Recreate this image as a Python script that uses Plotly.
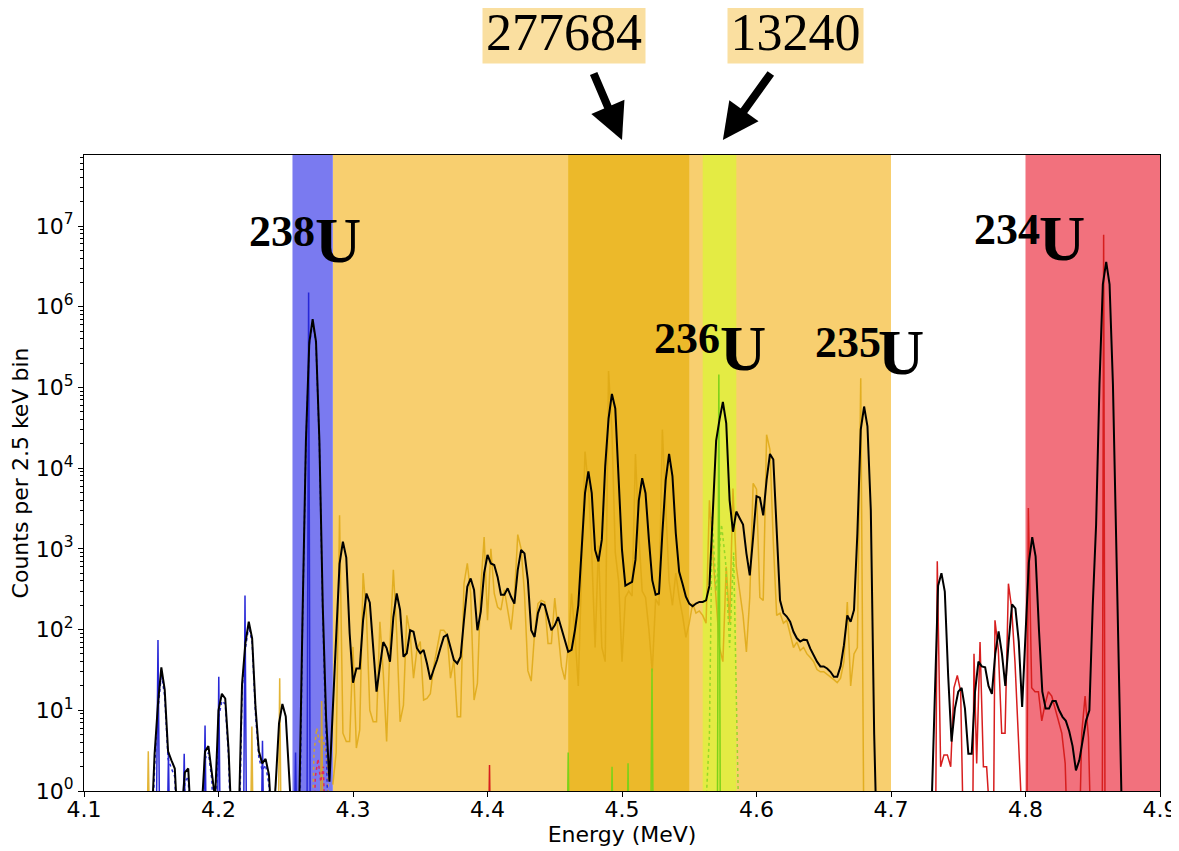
import numpy as np
import plotly.graph_objects as go

# ---------------- data ----------------
# summed, smoothed spectrum: counts per 2.5 keV bin starting at 4.150 MeV
BIN_START = 4.150
BIN_WIDTH = 0.0025
sum_counts = [
    0.3, 2.9, 12, 34, 18, 3.1, 2.4, 1.9, 0.3, 0.5,
    1.7, 1.9, 0.3, 0.3, 0.3, 0.6, 3.1, 3.6, 1.8, 0.8,
    10, 16, 14, 3.2, 0.3, 0.3, 0.4, 21, 68, 125,
    78, 11, 3.1, 2.2, 2.5, 1.6, 0.3, 1.2, 6.9, 12,
    8.4, 2.0, 0.3, 0.3, 0.6, 150, 22000, 360000, 700000, 370000,
    22000, 200, 8, 1.3, 10, 120, 650, 1230, 780, 90,
    22, 33, 33, 131, 280, 215, 67, 17, 35, 70,
    59, 40, 143, 280, 175, 46, 51, 98, 94, 59,
    51, 56, 38, 24, 32, 42, 59, 81, 86, 62,
    42, 38, 46, 131, 340, 430, 310, 98, 167, 500,
    840, 660, 630, 450, 270, 270, 325, 255, 210, 550,
    970, 880, 410, 98, 81, 160, 210, 200, 143, 98,
    113, 143, 103, 74, 53, 56, 98, 200, 880, 4900,
    9100, 4900, 970, 700, 1300, 10500, 41000, 83000, 55000, 5900,
    970, 350, 370, 390, 730, 4000, 7500, 4900, 1300, 410,
    270, 280, 1560, 7100, 15000, 8000, 1560, 520, 370, 255,
    210, 195, 210, 220, 220, 230, 350, 3300, 22000, 40000,
    66000, 36000, 4000, 1630, 2900, 2400, 2000, 880, 470, 1400,
    4500, 4300, 2600, 7100, 15000, 12800, 1560, 230, 160, 145,
    125, 94, 78, 71, 75, 74, 58, 48, 40, 35,
    35, 33, 30, 26, 26, 35, 64, 150, 125, 175,
    1560, 30000, 58000, 33000, 3000, 5, 0.1, 0.1, 0.1, 0.1,
    0.1, 0.1, 0.1, 0.1, 0.1, 0.1, 0.1, 0.1, 0.1, 0.1,
    0.1, 0.1, 0.5, 19, 350, 500, 295, 27, 4.1, 10.5,
    17, 19, 10.5, 2.9, 2.9, 17, 40, 35, 34, 20,
    16, 50, 95, 50, 20, 71, 205, 183, 71, 11,
    100, 680, 1400, 810, 100, 17, 10.5, 10.5, 13, 13,
    10, 8.3, 7.4, 5.5, 3.6, 1.8, 2.4, 4.3, 7.4, 10,
    200, 2000, 110000, 1900000, 3600000, 1900000, 110000, 1100, 5, 0.1,
]

# 238U component (dotted), same 2.5 keV bins from 4.150 MeV
u238_dotted = [
    0.1, 2.0, 10, 28, 15, 2.5, 1.9, 1.5, 0.1, 0.1,
    1.3, 1.5, 0.1, 0.1, 0.1, 0.1, 2.5, 3.0, 1.4, 0.1,
    8, 13, 12, 2.6, 0.1, 0.1, 0.1, 18, 58, 110,
    70, 9, 2.6, 1.8, 2.1, 1.2, 0.1, 0.1, 0.1, 0.1,
    0.1, 0.1, 0.1, 0.1, 0.1, 130, 20000, 330000, 650000, 340000,
    20000, 150, 4, 0.1,
]

# 238U raw component (solid blue)
u238_E = [4.1535, 4.1550, 4.1565, 4.1615, 4.1628, 4.1640, 4.1730, 4.1745, 4.1760,
          4.1885, 4.1900, 4.1912, 4.1990, 4.2002, 4.2015, 4.2185, 4.2197, 4.2210,
          4.2315, 4.2327, 4.2340, 4.2560, 4.2573, 4.2586, 4.2657, 4.2670, 4.2683]
u238_C = [0.1, 74, 0.1, 0.1, 3.0, 0.1, 0.1, 2.9, 0.1,
          0.1, 6.5, 0.1, 0.1, 26, 0.1, 0.1, 265, 0.1,
          0.1, 4.2, 0.1, 0.1, 3.0, 0.1, 0.1, 1.5e6, 0.1]

# 235U-chain component (gold): isolated low-energy spikes
gold_spike_E = [4.1465, 4.1478, 4.1491, 4.2235, 4.2248, 4.2261,
                4.2442, 4.2455, 4.2468, 4.2754, 4.2767, 4.2780]
gold_spike_C = [0.1, 3.1, 0.1, 0.1, 6.3, 0.1, 0.1, 25, 0.1, 0.1, 13, 0.1]
# gold component, 2.5 keV bins from 4.285 MeV
GOLD_START = 4.285
gold_counts = [
    1.2, 3, 2600, 5.2, 4.1, 4.1, 61, 3.4, 5.7, 500,
    150, 10, 7.2, 7.2, 125, 29, 4.1, 67, 550, 90,
    7.2, 11.6, 150, 90, 25, 56, 71, 13.4, 14, 16,
    35, 61, 98, 98, 86, 25, 42, 8.3, 8.3, 370,
    660, 280, 13.4, 21.6, 325, 1400, 131, 1000, 280, 190,
    175, 310, 175, 100, 255, 1500, 1000, 280, 31, 23,
    90, 210, 230, 220, 67, 67, 245, 90, 35, 24,
    61, 280, 90, 20, 600, 16000, 6000, 900, 60, 1100,
    60, 40, 160000, 30000, 900, 400, 40, 250, 300, 260,
    15000, 1500, 300, 250, 100, 30, 240, 200, 30000, 3000,
    400, 200, 500, 250, 150, 80, 120, 210, 160, 170,
    150, 120, 4000, 900, 200, 60, 40, 600, 120, 5600,
    600, 300, 150, 53, 250, 6500, 5500, 250, 230, 26000,
    17000, 1200, 150, 160, 120, 130, 90, 60, 70, 55,
    60, 50, 45, 40, 32, 30, 30, 28, 26, 24,
    22, 25, 40, 220, 20, 50, 60, 130000, 0.1, 0.1,
    0.1, 0.1, 0.1, 0.1, 0.1, 0.1, 0.1, 0.1,
]
# gold dotted component near the 238U window
gold_dot_E = [4.2690, 4.2710, 4.2730, 4.2750, 4.2770, 4.2790, 4.2810, 4.2830]
gold_dot_C = [0.1, 3, 6, 4, 5, 3.5, 2, 0.1]

# 236U component (green)
u236_E = [4.4590, 4.4600, 4.4610, 4.4915, 4.4926, 4.4937, 4.5035, 4.5045, 4.5055,
          4.5212, 4.5223, 4.5234, 4.5708, 4.5720, 4.5732]
u236_C = [0.1, 3, 0.1, 0.1, 2, 0.1, 0.1, 2.2, 0.1, 0.1, 33, 0.1, 0.1, 145000, 0.1]
u236_dot_E = [4.5600, 4.5650, 4.5670, 4.5700, 4.5740, 4.5770, 4.5800, 4.5830, 4.5850, 4.5875]
u236_dot_C = [0.1, 5, 2500, 300, 2000, 700, 60, 900, 15, 0.1]

# 234U component (red)
u234_E = [4.4005, 4.4015, 4.4025,
          4.7330, 4.7344, 4.7369, 4.7394, 4.7419, 4.7444, 4.7468, 4.7493, 4.7518, 4.7543,
          4.7605, 4.7617, 4.7637, 4.7662, 4.7687, 4.7711, 4.7760, 4.7773, 4.7798, 4.7823,
          4.7848, 4.7873, 4.7897, 4.7922, 4.7947, 4.7979,
          4.8010, 4.8021, 4.8046, 4.8071, 4.8096, 4.8121, 4.8146, 4.8170, 4.8195, 4.8220,
          4.8245, 4.8270, 4.8295, 4.8319,
          4.8395, 4.8418, 4.8443, 4.8468, 4.8493,
          4.8570, 4.8581, 4.8592]
u234_C = [0.1, 2.1, 0.1,
          0.1, 700, 2.0, 2.8, 2.8, 2.0, 19, 27, 17, 0.1,
          0.1, 50, 2.2, 70, 2.0, 2.0, 0.1, 130, 56, 5.2,
          5.2, 370, 184, 39, 5.2, 0.3,
          0.3, 3200, 19, 17, 17, 7.4, 12, 17, 15, 10.5,
          7.4, 5.2, 2.2, 0.1,
          0.1, 5.2, 15, 4.6, 0.1,
          0.1, 7.8e6, 0.1]
u234_dot_E = [4.2700, 4.2720, 4.2740, 4.2760, 4.2780, 4.2800]
u234_dot_C = [0.1, 1.5, 2.5, 1.3, 2.0, 0.1]

# energy windows (MeV)
windows = {
    "u238": (4.255, 4.285),
    "wide": (4.285, 4.700),
    "sum": (4.460, 4.550),
    "u236": (4.560, 4.585),
    "u234": (4.800, 4.900),
}
window_sums = {"sum": "277684", "u236": "13240"}

x_ticks = [4.1, 4.2, 4.3, 4.4, 4.5, 4.6, 4.7, 4.8, 4.9]
y_decades = [0, 1, 2, 3, 4, 5, 6, 7]

# ---------------- figure ----------------
x_sum = np.round(BIN_START + BIN_WIDTH * np.arange(len(sum_counts)), 5)
x_gold = np.round(GOLD_START + BIN_WIDTH * np.arange(len(gold_counts)), 5)

fig = go.Figure()

band_colors = {
    "u238": "rgb(122,122,240)",
    "wide": "rgb(248,207,111)",
    "sum": "rgb(236,185,42)",
    "u236": "rgb(228,235,68)",
    "u234": "rgb(242,113,125)",
}
for key in ["wide", "u238", "sum", "u236", "u234"]:
    x0, x1 = windows[key]
    fig.add_vrect(x0=x0, x1=x1, fillcolor=band_colors[key], opacity=1,
                  line_width=0, layer="below")

GOLD = "rgba(222,168,20,0.85)"
fig.add_trace(go.Scatter(x=list(gold_spike_E) + [None] + list(x_gold),
                         y=list(gold_spike_C) + [None] + list(gold_counts),
                         mode="lines", line=dict(color=GOLD, width=1.5),
                         connectgaps=False, hoverinfo="skip"))
fig.add_trace(go.Scatter(x=gold_dot_E, y=gold_dot_C, mode="lines",
                         line=dict(color=GOLD, width=1.5, dash="dot")))
fig.add_trace(go.Scatter(x=u234_dot_E, y=u234_dot_C, mode="lines",
                         line=dict(color="rgb(225,40,90)", width=1.5, dash="dot")))
fig.add_trace(go.Scatter(x=x_sum[:len(u238_dotted)], y=u238_dotted, mode="lines",
                         line=dict(color="rgb(45,45,215)", width=1.5, dash="dot")))
fig.add_trace(go.Scatter(x=u238_E, y=u238_C, mode="lines",
                         line=dict(color="rgb(40,40,215)", width=1.5)))
fig.add_trace(go.Scatter(x=u236_dot_E, y=u236_dot_C, mode="lines",
                         line=dict(color="rgb(150,215,40)", width=1.5, dash="dot")))
fig.add_trace(go.Scatter(x=u236_E, y=u236_C, mode="lines",
                         line=dict(color="rgb(125,210,25)", width=1.5)))
fig.add_trace(go.Scatter(x=u234_E, y=u234_C, mode="lines",
                         line=dict(color="rgb(215,30,30)", width=1.5)))
fig.add_trace(go.Scatter(x=x_sum, y=sum_counts, mode="lines",
                         line=dict(color="black", width=2)))

TICKFONT = dict(family="DejaVu Sans", size=22, color="black")
fig.update_layout(
    width=1179, height=851,
    # the page adds an 8 px body margin, margins are set so the plot area
    # lands at x 84..1160, y 155..791 in the browser window
    margin=dict(l=76, r=27, t=147, b=68, autoexpand=False),
    paper_bgcolor="white", plot_bgcolor="white",
    showlegend=False,
    xaxis=dict(range=[4.1, 4.9], tickmode="array", tickvals=x_ticks,
               ticktext=[f"{v:.1f}" for v in x_ticks], automargin=False,
               ticks="outside", ticklen=5, tickwidth=1, tickcolor="black",
               ticklabelstandoff=-6,
               showline=True, linecolor="black", linewidth=1, mirror=True,
               showgrid=False, zeroline=False, tickfont=TICKFONT,
               title=dict(text="Energy (MeV)", font=TICKFONT, standoff=0)),
    yaxis=dict(type="log", range=[0, 7.88], tickmode="array",
               tickvals=[10 ** d for d in y_decades],
               ticktext=[f"10<sup>{d}</sup>" for d in y_decades], automargin=False,
               ticks="outside", ticklen=5, tickwidth=1, tickcolor="black",
               minor=dict(ticks="outside", ticklen=3, tickcolor="black", tickwidth=1,
                          tickvals=[m * 10 ** d for d in y_decades for m in range(2, 10)]),
               showline=True, linecolor="black", linewidth=1, mirror=True,
               showgrid=False, zeroline=False, tickfont=TICKFONT,
               title=dict(text="Counts per 2.5 keV bin", font=TICKFONT, standoff=4)),
)

# isotope labels: mass number (superscript) and element symbol
SERIF = "Liberation Serif"
iso_labels = [
    # mass, (x, y) of mass number, (x, y) of symbol  -- x in MeV, y in paper units
    ("238", (4.2472, 0.8794), (4.2891, 0.8660)),
    ("236", (4.5483, 0.7107), (4.5900, 0.6950)),
    ("235", (4.6677, 0.7052), (4.7074, 0.6900)),
    ("234", (4.7866, 0.8830), (4.8269, 0.8690)),
]
for mass, (xm, ym), (xs, ys) in iso_labels:
    fig.add_annotation(x=xm, y=ym, xref="x", yref="paper", showarrow=False,
                       text=f"<b>{mass}</b>",
                       font=dict(family=SERIF, size=44, color="black"),
                       xanchor="center", yanchor="middle")
    fig.add_annotation(x=xs, y=ys, xref="x", yref="paper", showarrow=False,
                       text="<b>U</b>",
                       font=dict(family=SERIF, size=64, color="black"),
                       xanchor="center", yanchor="middle")

# window sums with arrows
for key, xt, wbox, xh, ax in [("sum", 4.457, 162, 4.500, -29),
                              ("u236", 4.629, 135, 4.575, 49)]:
    fig.add_annotation(x=xt, y=1.193, xref="x", yref="paper", showarrow=False,
                       text=window_sums[key], bgcolor="rgb(250,223,160)", borderpad=0,
                       width=wbox, height=62, align="center", valign="middle",
                       font=dict(family=SERIF, size=52, color="black"),
                       xanchor="center", yanchor="middle")
    fig.add_annotation(x=xh, y=1.0236, xref="x", yref="paper", text="",
                       showarrow=True, arrowhead=2, arrowsize=0.9, arrowwidth=8,
                       arrowcolor="black", ax=ax, ay=-68, standoff=0)

fig.write_html("out.html")
